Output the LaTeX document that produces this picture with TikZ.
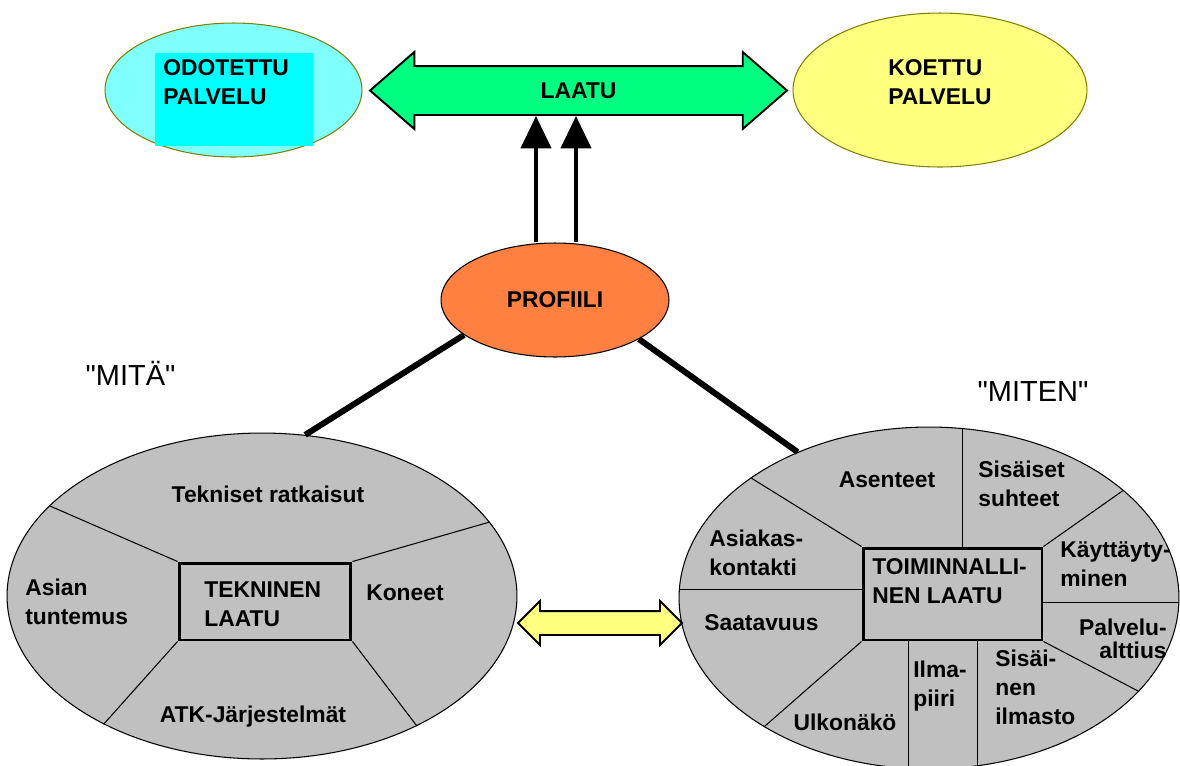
\documentclass[tikz,border=0pt]{standalone}
\usepackage{fontspec}
\setmainfont{Liberation Sans}
\usetikzlibrary{shapes.geometric,shapes.arrows,arrows.meta}

\definecolor{vaaleasyaani}{HTML}{80FFFF}
\definecolor{syaani}{HTML}{00FFFF}
\definecolor{laatuvihrea}{HTML}{00FF80}
\definecolor{keltainen}{HTML}{FFFF80}
\definecolor{oranssi}{HTML}{FF8040}
\definecolor{harmaa}{HTML}{C0C0C0}
\definecolor{oliivi}{HTML}{808000}

\tikzset{
	lbl/.style={font=\bfseries\fontsize{13}{16.5}\selectfont, align=left, inner sep=0pt},
	soikio/.style={ellipse, draw, line width=0.6pt, inner sep=0pt},
	kehys/.style={rectangle, draw, line width=1.7pt, inner sep=0pt},
	jako/.style={line width=0.6pt},
	paksu/.style={line width=3.4pt},
	nuoli/.style={line width=2.8pt, -{Triangle[width=17pt,length=18.5pt]}},
	tuplanuoli/.style={double arrow, draw, line width=1.1pt, inner sep=0pt},
}

\begin{document}
\begin{tikzpicture}[x=0.02cm, y=-0.02cm]
			\clip (0,0) rectangle (1180,765);
			% odotettu ja koettu palvelu
			\node[soikio, draw=oliivi, fill=vaaleasyaani, minimum width=5.14cm, minimum height=2.68cm] (odot) at (233.5,90) {};
			\node[fill=syaani, minimum width=3.16cm, minimum height=1.86cm, inner sep=0pt] (odotbox) at (234,99.5) {};
			\node[lbl, anchor=west] (odotteksti) at (163,82.5) {ODOTETTU\\PALVELU};
			\node[soikio, draw=oliivi, fill=keltainen, minimum width=5.88cm, minimum height=3.08cm] (koet) at (940,90) {};
			\node[lbl, anchor=west] (koetteksti) at (888,82.5) {KOETTU\\PALVELU};
			\node[tuplanuoli, fill=laatuvihrea, minimum height=8.34cm, text height=0.635cm, text depth=0.305cm,
				double arrow head extend=0.28cm, double arrow tip angle=82, font=\bfseries\fontsize{13}{16.5}\selectfont]
				(laatu) at (578.5,90.5) {LAATU};
			% profiili
			\node[soikio, fill=oranssi, minimum width=4.56cm, minimum height=2.28cm, font=\bfseries\fontsize{13}{16.5}\selectfont] (prof) at (555,300) {PROFIILI};
			\foreach \x in {536,576} {
					\draw[nuoli] (prof.north -| \x,0) -- (laatu.south -| \x,0);
				}
			% mita
			\node[soikio, fill=harmaa, minimum width=10.2cm, minimum height=6.52cm] (mita) at (262,596) {};
			\node[kehys, minimum width=3.44cm, minimum height=1.54cm] (tekn) at (265,601.5) {};
			\foreach \a/\c in {157/north west, 18/north east, 219/south west, 320/south east} {
					\draw[jako] (tekn.\c) -- (mita.\a);
				}
			\node[lbl] (tekratk) at (268,494) {Tekniset ratkaisut};
			\node[lbl, anchor=west] (asian) at (25,601.5) {Asian\\tuntemus};
			\node[lbl] (koneet) at (405,593) {Koneet};
			\node[lbl, anchor=west] (tekteksti) at (204,604.5) {TEKNINEN\\LAATU};
			\node[lbl] (atk) at (253,717) {ATK-Järjestelmät};
			% miten
			\node[soikio, fill=harmaa, minimum width=10cm, minimum height=6.84cm] (miten) at (929,598) {};
			\node[kehys, minimum width=3.58cm, minimum height=1.84cm] (toim) at (952.5,594) {};
			\foreach \a/\c in {146/north west, 29/north east, 336/south east, 218/south west} {
					\draw[jako] (toim.\c) -- (miten.\a);
				}
			\draw[jako] (toim.west |- miten.178) -- (miten.178);
			\draw[jako] (toim.east |- miten.359) -- (miten.359);
			\draw[jako] (miten.79 |- toim.north) -- (miten.79);
			\draw[jako] (miten.263 |- toim.south) -- (miten.263);
			\draw[jako] (miten.286 |- toim.south) -- (miten.286);
			\node[lbl] (asenteet) at (887,480) {Asenteet};
			\node[lbl, anchor=west] (sisaiset) at (978,483.5) {Sisäiset\\suhteet};
			\node[lbl, anchor=west] (asiakas) at (709,552.5) {Asiakas-\\kontakti};
			\node[lbl, anchor=west] (saatavuus) at (704,623) {Saatavuus};
			\node[lbl, anchor=west] (toimteksti) at (872,581) {TOIMINNALLI-\\NEN LAATU};
			\node[lbl, anchor=west] (kaytt) at (1060,564.5) {Käyttäyty-\\minen};
			\node[lbl, align=right, anchor=east, font=\bfseries\fontsize{13}{13}\selectfont] (palvelu) at (1167,638.5) {Palvelu-\\alttius};
			\node[lbl, anchor=west] (sisainen) at (995,687.5) {Sisäi-\\nen\\ilmasto};
			\node[lbl, anchor=west] (ilmapiiri) at (913,686) {Ilma-\\piiri};
			\node[lbl] (ulkonako) at (845,722) {Ulkonäkö};
			% yhteydet
			\draw[paksu] (prof.201) -- (mita.75);
			\draw[paksu] (prof.335) -- (miten.132);
			\node[tuplanuoli, fill=keltainen, minimum height=3.28cm, text height=0.22cm, text depth=0.22cm,
				double arrow head extend=0.2cm] (vaihto) at (600,623) {};
			\node[font=\fontsize{16.5}{20}\selectfont] (mitateksti) at (130.5,373) {\textquotedbl MITÄ\textquotedbl};
			\node[font=\fontsize{16.5}{20}\selectfont] (mitenteksti) at (1033,392) {\textquotedbl MITEN\textquotedbl};
		\end{tikzpicture}
\end{document}
